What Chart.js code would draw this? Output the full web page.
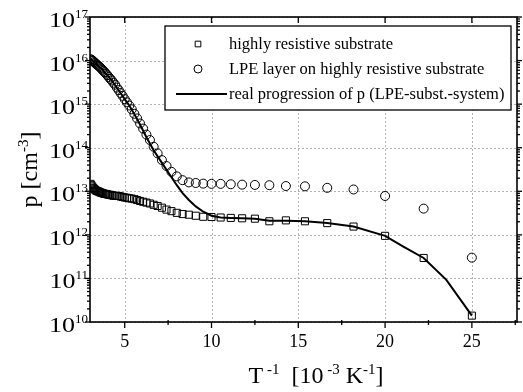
<!DOCTYPE html>
<html>
<head>
<meta charset="utf-8">
<script src="https://cdn.jsdelivr.net/npm/chart.js@4"></script>
<style>
  html, body { margin: 0; padding: 0; background: #fff; }
</style>
</head>
<body>
<canvas id="chart" width="523" height="392"></canvas>
<script>
// measurement temperatures [K], x axis is 1000/T
var temps = [330, 325, 320, 315, 310, 305, 300, 295, 290, 285,
             280, 275, 270, 265, 260, 255, 250, 245, 240, 235,
             230, 225, 220, 215, 210, 205, 200, 195, 190, 185,
             180, 175, 170, 165, 160, 155, 150, 145, 140, 135,
             130, 125, 120, 115, 110, 105, 100, 95, 90, 85,
             80, 75, 70, 65, 60, 55, 50, 45, 40];

// p [cm^-3]
var substrate = [1.48e13, 1.38e13, 1.29e13, 1.2e13, 1.15e13, 1.1e13, 1.05e13, 1.02e13, 1.0e13, 9.8e12,
                 9.5e12, 9.3e12, 9.1e12, 8.9e12, 8.7e12, 8.7e12, 8.5e12, 8.3e12, 8.3e12, 8.1e12,
                 7.9e12, 7.9e12, 7.8e12, 7.8e12, 7.6e12, 7.4e12, 7.2e12, 7.1e12, 6.9e12, 6.8e12,
                 6.6e12, 6.3e12, 6.0e12, 5.75e12, 5.5e12, 5.25e12, 4.9e12, 4.6e12, 4.2e12, 3.8e12,
                 3.5e12, 3.2e12, 3.0e12, 2.9e12, 2.75e12, 2.6e12, 2.57e12, 2.5e12, 2.45e12, 2.4e12,
                 2.35e12, 2.05e12, 2.15e12, 2.05e12, 1.86e12, 1.55e12, 9.5e11, 2.95e11, 1.4e10];

var lpeLayer = [1.07e16, 1.05e16, 1.0e16, 9.8e15, 9.3e15, 8.9e15, 8.5e15, 8.1e15, 7.8e15, 7.4e15,
                7.1e15, 6.6e15, 6.2e15, 5.8e15, 5.4e15, 5.0e15, 4.6e15, 4.2e15, 3.8e15, 3.5e15,
                3.1e15, 2.8e15, 2.4e15, 2.1e15, 1.8e15, 1.55e15, 1.3e15, 1.1e15, 9.3e14, 7.6e14,
                6.0e14, 4.7e14, 3.6e14, 2.75e14, 2.0e14, 1.5e14, 1.05e14, 7.4e13, 5.2e13, 3.8e13,
                2.8e13, 2.2e13, 1.8e13, 1.6e13, 1.55e13, 1.5e13, 1.48e13, 1.48e13, 1.45e13, 1.42e13,
                1.4e13, 1.38e13, 1.32e13, 1.3e13, 1.2e13, 1.1e13, 7.8e12, 4.0e12, 3.0e11];

var realT = [330, 300, 270, 250, 230, 210, 200, 190, 180, 170, 160, 150, 140, 130, 125, 120, 115,
             110, 105, 100, 95, 90, 85, 80, 75, 70, 65, 60, 55, 50, 47.5, 45, 42.5, 40];
var realP = [1.1e16, 8.5e15, 6.2e15, 4.6e15, 3.1e15, 1.8e15, 1.3e15, 9.3e14, 5.9e14, 3.4e14, 1.74e14,
             8.7e13, 4.5e13, 2.1e13, 1.38e13, 9.1e12, 6.3e12, 4.5e12, 3.4e12, 2.75e12, 2.5e12, 2.45e12,
             2.4e12, 2.35e12, 2.1e12, 2.1e12, 2.05e12, 1.86e12, 1.55e12, 9.5e11, 5.4e11, 2.95e11, 9.3e10, 1.4e10];

var xTicks = [5, 10, 15, 20, 25];
var xMinor = [7.5, 12.5, 17.5, 22.5, 27.5];
var yExp = [10, 11, 12, 13, 14, 15, 16, 17];

var seriesNames = ['highly resistive substrate',
                   'LPE layer on highly resistive substrate',
                   'real progression of p (LPE-subst.-system)'];

var serif = '"Liberation Serif", "Times New Roman", serif';

function toPoints(t, p) {
  return t.map(function (T, i) { return {x: 1000 / T, y: p[i]}; });
}

// draw a run of [text, isSuperscript] pieces, centred on x
function drawParts(ctx, parts, x, y, size, supSize, rise) {
  var w = 0;
  parts.forEach(function (p) {
    ctx.font = (p[1] ? supSize : size) + 'px ' + serif;
    w += ctx.measureText(p[0]).width;
  });
  var cx = x - w / 2;
  ctx.textAlign = 'left';
  ctx.textBaseline = 'alphabetic';
  parts.forEach(function (p) {
    ctx.font = (p[1] ? supSize : size) + 'px ' + serif;
    ctx.fillText(p[0], cx, p[1] ? y - rise : y);
    cx += ctx.measureText(p[0]).width;
  });
}

function line(ctx, x1, y1, x2, y2) {
  ctx.beginPath(); ctx.moveTo(x1, y1); ctx.lineTo(x2, y2); ctx.stroke();
}

var decor = {
  id: 'decor',
  beforeDatasetsDraw: function (chart) {
    var ctx = chart.ctx, a = chart.chartArea, x = chart.scales.x, y = chart.scales.y;
    ctx.save();
    ctx.strokeStyle = '#b4b4b4';
    ctx.lineWidth = 1;
    ctx.setLineDash([2, 2]);
    xTicks.forEach(function (v) {
      var px = Math.round(x.getPixelForValue(v)) + 0.5;
      line(ctx, px, a.top, px, a.bottom);
    });
    yExp.forEach(function (e) {
      var py = Math.round(y.getPixelForValue(Math.pow(10, e))) + 0.5;
      line(ctx, a.left, py, a.right, py);
    });
    ctx.restore();
  },
  afterDatasetsDraw: function (chart) {
    var ctx = chart.ctx, a = chart.chartArea, x = chart.scales.x, y = chart.scales.y;
    ctx.save();
    ctx.strokeStyle = '#000';
    ctx.fillStyle = '#000';

    // ticks
    ctx.lineWidth = 1.3;
    xTicks.forEach(function (v) {
      var px = x.getPixelForValue(v);
      line(ctx, px, a.bottom, px, a.bottom + 6);
      line(ctx, px, a.top, px, a.top + 6);
    });
    xMinor.forEach(function (v) {
      var px = x.getPixelForValue(v);
      line(ctx, px, a.bottom - 2, px, a.bottom + 3);
    });
    yExp.forEach(function (e) {
      var py = y.getPixelForValue(Math.pow(10, e));
      line(ctx, a.left - 5, py, a.left, py);
      line(ctx, a.right, py, a.right + 5, py);
      if (e < 17) {
        for (var k = 2; k <= 9; k++) {
          var pm = y.getPixelForValue(k * Math.pow(10, e));
          line(ctx, a.left - 3, pm, a.left, pm);
          line(ctx, a.right, pm, a.right + 3, pm);
        }
      }
    });

    // frame
    ctx.lineWidth = 1.6;
    ctx.strokeRect(a.left, a.top, a.right - a.left, a.bottom - a.top);

    // y tick labels 10^n
    yExp.forEach(function (e) {
      var py = y.getPixelForValue(Math.pow(10, e));
      ctx.textAlign = 'right';
      ctx.textBaseline = 'alphabetic';
      ctx.font = '13px ' + serif;
      var ew = ctx.measureText(String(e)).width;
      ctx.fillText(String(e), a.left - 2, py + 1);
      ctx.save();
      ctx.translate(a.left - 2 - ew, py + 10);
      ctx.scale(1.3, 1);
      ctx.font = '20px ' + serif;
      ctx.fillText('10', 0, 0);
      ctx.restore();
    });

    // axis titles
    drawParts(ctx, [['T', 0], [' -1', 1], ['  [10', 0], [' -3', 1], [' K', 0], ['-1', 1], [']', 0]],
              316, 383, 24, 15, 9);
    ctx.save();
    ctx.translate(37, (a.top + a.bottom) / 2);
    ctx.rotate(-Math.PI / 2);
    drawParts(ctx, [['p [cm', 0], ['-3', 1], [']', 0]], 0, 0, 24, 15, 9);
    ctx.restore();

    // legend box
    var lx = a.right - 352, ly = a.top + 9, lw = 346, lh = 84;
    ctx.fillStyle = '#fff';
    ctx.fillRect(lx, ly, lw, lh);
    ctx.lineWidth = 1.3;
    ctx.strokeRect(lx, ly, lw, lh);
    ctx.font = '16.5px ' + serif;
    ctx.textAlign = 'left';
    ctx.textBaseline = 'middle';
    chart.data.datasets.forEach(function (ds, i) {
      var cy = ly + 18 + i * 25;
      var sx = lx + 33;
      ctx.lineWidth = 1;
      if (ds.showLine) {
        ctx.lineWidth = 2;
        line(ctx, lx + 11, cy, lx + 62, cy);
      } else {
        ctx.fillStyle = 'rgba(0,0,0,0)';
        Chart.helpers.drawPoint(ctx, {pointStyle: ds.pointStyle, radius: 4, borderWidth: 1}, sx, cy);
      }
      ctx.fillStyle = '#000';
      ctx.fillText(ds.label, lx + 64, cy + 1);
    });
    ctx.restore();
  }
};

new Chart(document.getElementById('chart'), {
  type: 'scatter',
  data: {
    datasets: [{
      label: seriesNames[0],
      data: toPoints(temps, substrate),
      pointStyle: 'rect',
      pointRadius: 5,
      borderColor: '#000',
      backgroundColor: 'rgba(0,0,0,0)',
      borderWidth: 1,
      showLine: false,
      order: 2
    }, {
      label: seriesNames[1],
      data: toPoints(temps, lpeLayer),
      pointStyle: 'circle',
      pointRadius: 4.5,
      borderColor: '#000',
      backgroundColor: 'rgba(0,0,0,0)',
      borderWidth: 1,
      showLine: false,
      order: 3
    }, {
      label: seriesNames[2],
      data: toPoints(realT, realP),
      showLine: true,
      pointRadius: 0,
      borderColor: '#000',
      borderWidth: 2,
      tension: 0,
      order: 1
    }]
  },
  options: {
    responsive: false,
    devicePixelRatio: 1,
    animation: false,
    layout: { padding: { top: 17, right: 5, left: 0, bottom: 0 } },
    plugins: { legend: { display: false }, tooltip: { enabled: false } },
    scales: {
      x: {
        type: 'linear',
        min: 3,
        max: 27.6,
        afterBuildTicks: function (s) { s.ticks = xTicks.map(function (v) { return {value: v}; }); },
        afterFit: function (s) { s.height = 70; },
        grid: { display: false, drawTicks: false },
        border: { display: false },
        ticks: { color: '#000', padding: 9, font: { family: serif, size: 18 } }
      },
      y: {
        type: 'logarithmic',
        min: 1e10,
        max: 1e17,
        afterBuildTicks: function (s) { s.ticks = yExp.map(function (e) { return {value: Math.pow(10, e)}; }); },
        afterFit: function (s) { s.width = 90; },
        grid: { display: false, drawTicks: false },
        border: { display: false },
        ticks: { display: false }
      }
    }
  },
  plugins: [decor]
});
</script>
</body>
</html>
